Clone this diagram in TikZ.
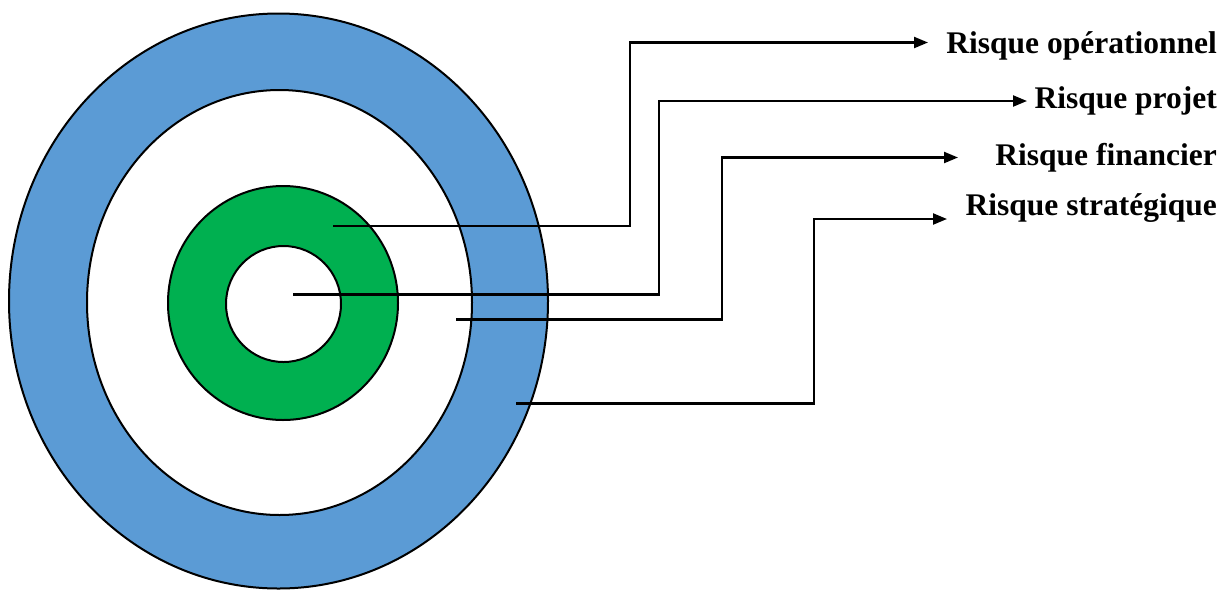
\documentclass[tikz,border=0pt]{standalone}
\usepackage{fontspec}
\setmainfont{Liberation Serif}
\usetikzlibrary{arrows.meta,positioning}
\definecolor{cRing}{HTML}{5B9BD5}
\definecolor{cCore}{HTML}{00B050}
\tikzset{
  ring/.style={draw=black, line width=2pt},
  arr/.style={-{Triangle[length=14pt, width=11pt]}, line width=2.2pt, black},
  risk/.style={font=\fontsize{31.5}{38}\selectfont\bfseries, inner sep=0pt, anchor=base east}
}
\begin{document}
\begin{tikzpicture}[x=1pt, y=-1pt]
\useasboundingbox (0,0) rectangle (1232,590);
% rings, outer to inner
\draw[ring, fill=cRing] (278.5,301) ellipse [x radius=269.5, y radius=287.5];
\draw[ring, fill=white] (279.5,302.5) ellipse [x radius=192.5, y radius=212.5];
\draw[ring, fill=cCore] (283,303) ellipse [x radius=115, y radius=117];
\draw[ring, fill=white] (283.5,304) ellipse [x radius=57.5, y radius=58];
% labels
\node[risk] (lOper) at (1217,53) {Risque opérationnel};
\node[risk] (lProj) at (1217,108) {Risque projet};
\node[risk] (lFin) at (1217,165) {Risque financier};
\node[risk] (lStrat) at (1217,215) {Risque stratégique};
% start points in the rings
\coordinate (sOper) at (333,226);
\coordinate (sProj) at (293,294.5);
\coordinate (sFin) at (456,319.5);
\coordinate (sStrat) at (516,403.5);
% elbows
\coordinate (kOper) at (630,42.5);
\coordinate (kProj) at (659,101);
\coordinate (kFin) at (722,157.5);
\coordinate (kStrat) at (814,219);
% arrow ends
\coordinate (eOper) at (928,42.5);
\coordinate (eProj) at (1027,101);
\coordinate (eFin) at (958,157.5);
\coordinate (eStrat) at (947,219);
% connectors
\foreach \r in {Oper,Proj,Fin,Strat}
  \draw[arr] (s\r) -| (k\r) -- (e\r);
\end{tikzpicture}
\end{document}
